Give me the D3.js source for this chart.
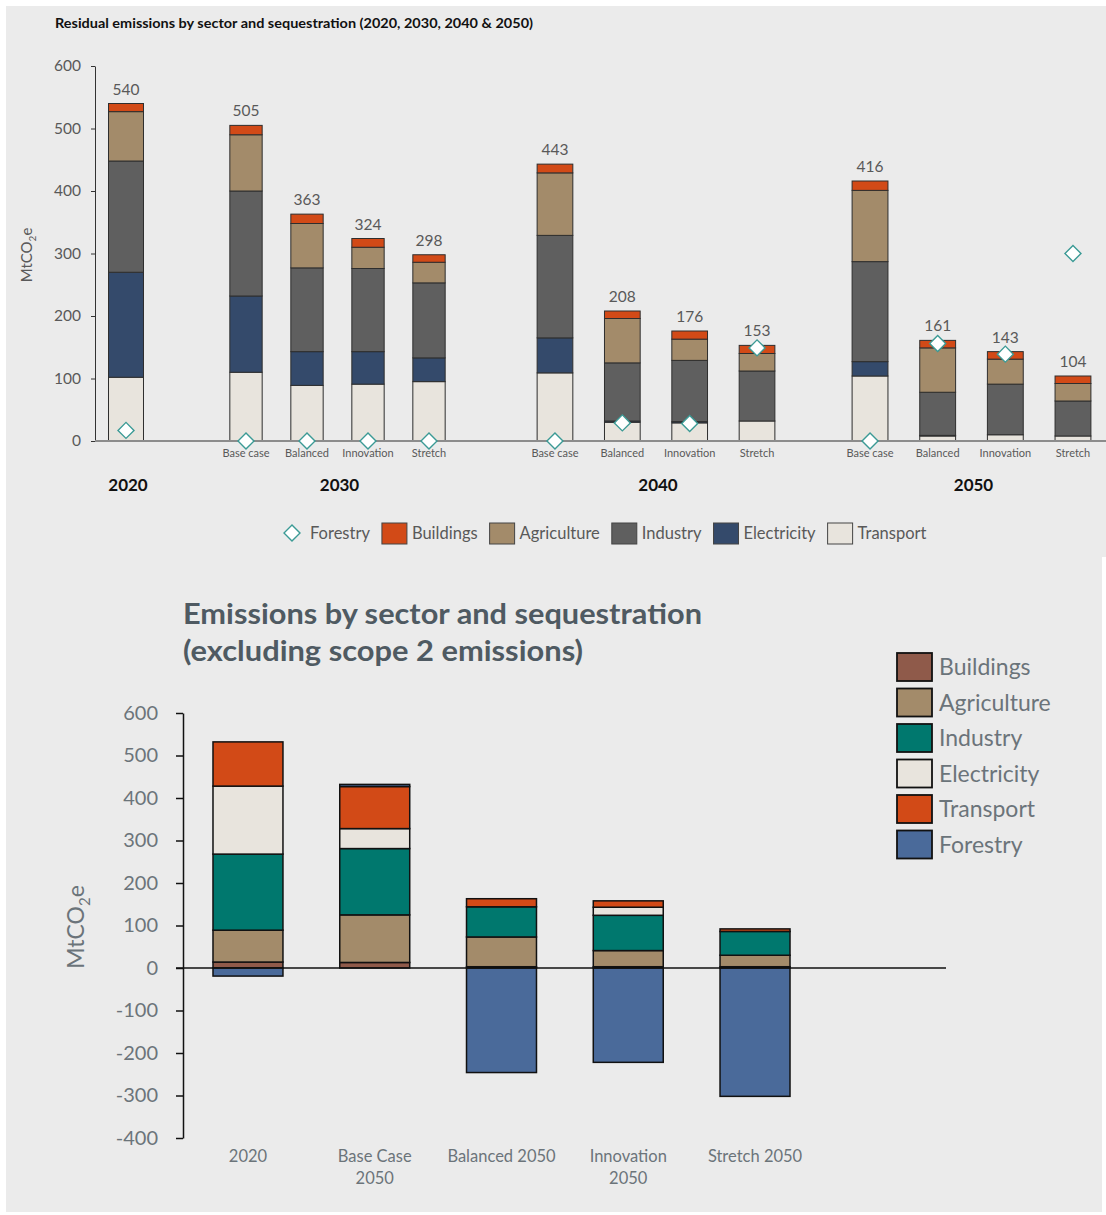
<!DOCTYPE html>
<html><head><meta charset="utf-8">
<script src="https://cdn.jsdelivr.net/npm/d3@7"></script>
<style>
body{margin:0;background:#fff;}
svg{display:block;font-family:Lato,"Open Sans",sans-serif;}
</style></head><body>
<svg id="c" width="1106" height="1215"></svg>
<script>
// ---------- TOP CHART DATA ----------
const topBarGroup    = ["2020","2030","2030","2030","2030","2040","2040","2040","2040","2050","2050","2050","2050"];
const topBarScenario = ["","Base case","Balanced","Innovation","Stretch","Base case","Balanced","Innovation","Stretch","Base case","Balanced","Innovation","Stretch"];
const topTransport   = [102,110, 89, 91, 95,109, 30, 29, 32,104,  8, 10,  8];
const topElectricity = [168,122, 54, 52, 38, 56,  2,  2,  0, 23,  1,  0,  0];
const topIndustry    = [178,168,134,133,120,164, 93, 98, 80,160, 69, 81, 56];
const topAgriculture = [ 79, 90, 71, 34, 33,100, 71, 34, 28,114, 71, 40, 28];
const topBuildings   = [ 13, 15, 15, 14, 12, 14, 12, 13, 13, 15, 12, 12, 12];
const topForestry    = [ 17,  0,  0,  0,  0,  0, 29, 28,149,  0,156,139,300];
const topTotals      = [540,505,363,324,298,443,208,176,153,416,161,143,104];
const topTicks       = [0,100,200,300,400,500,600];
const topLegend      = ["Forestry","Buildings","Agriculture","Industry","Electricity","Transport"];

// ---------- BOTTOM CHART DATA ----------
const botCategories  = ["2020","Base Case 2050","Balanced 2050","Innovation 2050","Stretch 2050"];
const botLabelLines  = [["2020"],["Base Case","2050"],["Balanced 2050"],["Innovation","2050"],["Stretch 2050"]];
const botBuildings   = [ 14, 13,   3,   3,   3];
const botAgriculture = [ 75,112,  70,  38,  27];
const botIndustry    = [179,156,  71,  83,  56];
const botElectricity = [160, 47,   0,  19,   0];
const botTransport   = [104, 99,  19,  15,   6];
const botForestry    = [-19,  5,-246,-222,-302];
const botTicks       = [-400,-300,-200,-100,0,100,200,300,400,500,600];
const botLegend      = ["Buildings","Agriculture","Industry","Electricity","Transport","Forestry"];

// ---------- STYLES / LAYOUT ----------
const topColors = {Transport:"#e8e4dd",Electricity:"#344a6b",Industry:"#5f5f5f",Agriculture:"#a38b6a",Buildings:"#d24a17"};
const botColors = {Buildings:"#8f5a4a",Agriculture:"#a38b6a",Industry:"#00786e",Electricity:"#e8e4dd",Transport:"#d24a17",Forestry:"#4a6a9a"};
const groupRange = {"2020":[93,159],"2030":[215.5,459.5],"2040":[521.3,790.7],"2050":[836.2,1106.8]};

const svg = d3.select("#c");
svg.append("rect").attr("x",6).attr("y",6).attr("width",1100).attr("height",551).attr("fill","#ebebeb");
svg.append("rect").attr("x",6).attr("y",557).attr("width",1096).attr("height",655).attr("fill","#ebebeb");

// ================= TOP CHART =================
const topKeys = ["Transport","Electricity","Industry","Agriculture","Buildings"];
const topRows = topBarGroup.map((g,i)=>({
  key: g+"|"+topBarScenario[i], group:g, scen:topBarScenario[i],
  Transport:topTransport[i], Electricity:topElectricity[i], Industry:topIndustry[i],
  Agriculture:topAgriculture[i], Buildings:topBuildings[i], forestry:topForestry[i], total:topTotals[i]
}));
const xGroup = {};
Array.from(new Set(topBarGroup)).forEach(g=>{
  xGroup[g] = d3.scaleBand().domain(topRows.filter(r=>r.group===g).map(r=>r.key))
    .range(groupRange[g]).paddingInner(0.47).paddingOuter(0.235);
});
const xL = d=>xGroup[d.group](d.key);
const xW = d=>xGroup[d.group].bandwidth();
const xC = d=>xL(d)+xW(d)/2;
const yTop = d3.scaleLinear().domain([0,600]).range([441,66]);

const gTop = svg.append("g");
gTop.append("text").attr("x",55).attr("y",28).attr("font-size",13).attr("font-weight","bold")
  .attr("fill","#111").attr("textLength",478).attr("lengthAdjust","spacingAndGlyphs")
  .text("Residual emissions by sector and sequestration (2020, 2030, 2040 & 2050)");

const yAxTop = gTop.append("g").attr("transform","translate(95,0)")
  .call(d3.axisLeft(yTop).tickValues(topTicks).tickSize(4).tickSizeOuter(0).tickPadding(10).tickFormat(d=>String(d)));
yAxTop.select(".domain").attr("stroke","#333");
yAxTop.selectAll(".tick line").attr("stroke","#333");
yAxTop.selectAll(".tick text").attr("fill","#595959").attr("font-size",15.5).attr("font-family","Lato,sans-serif");

const yt = gTop.append("text").attr("transform","translate(32,255) rotate(-90)").attr("text-anchor","middle")
  .attr("font-size",15).attr("fill","#595959");
yt.append("tspan").text("MtCO");
yt.append("tspan").attr("font-size",10).attr("dy",4).text("2");
yt.append("tspan").attr("dy",-4).text("e");

const topSeries = d3.stack().keys(topKeys)(topRows);
gTop.append("g").selectAll("g").data(topSeries).join("g").attr("fill",d=>topColors[d.key])
  .selectAll("rect").data(d=>d).join("rect")
  .attr("x",d=>xL(d.data)).attr("width",d=>xW(d.data))
  .attr("y",d=>yTop(d[1])).attr("height",d=>yTop(d[0])-yTop(d[1]))
  .attr("stroke","#2e2e2e").attr("stroke-width",1);

gTop.append("line").attr("x1",95).attr("x2",1106).attr("y1",yTop(0)).attr("y2",yTop(0))
  .attr("stroke","#8c8c8c").attr("stroke-width",2);

gTop.append("g").selectAll("text").data(topRows).join("text")
  .attr("x",xC).attr("y",d=>yTop(d.total)-9)
  .attr("text-anchor","middle").attr("font-size",15.5).attr("fill","#595959").text(d=>d.total);

const diamond = d3.symbol(d3.symbolSquare,128);
gTop.append("g").selectAll("path").data(topRows).join("path")
  .attr("d",diamond)
  .attr("transform",d=>`translate(${xC(d)},${yTop(d.forestry)}) rotate(45)`)
  .attr("fill","#fff").attr("stroke","#3b9a95").attr("stroke-width",1.4);

gTop.append("g").selectAll("text").data(topRows.filter(d=>d.scen)).join("text")
  .attr("x",xC).attr("y",457)
  .attr("text-anchor","middle").attr("font-size",11).attr("fill","#595959").text(d=>d.scen);

const groups = Array.from(d3.group(topRows,d=>d.group), ([g,rows])=>({g, cx:d3.mean(rows,xC)}));
gTop.append("g").selectAll("text").data(groups).join("text")
  .attr("x",d=>d.cx+2).attr("y",491).attr("text-anchor","middle")
  .attr("font-size",17).attr("font-weight","bold").attr("fill","#111").text(d=>d.g);

const lgTop = gTop.append("g");
let lx = 283;
topLegend.forEach(name=>{
  if(name==="Forestry"){
    lgTop.append("path").attr("d",diamond).attr("transform",`translate(${lx+9},533) rotate(45)`)
      .attr("fill","#fff").attr("stroke","#3b9a95").attr("stroke-width",1.4);
    lx += 27;
  } else {
    lgTop.append("rect").attr("x",lx).attr("y",523).attr("width",25).attr("height",21)
      .attr("fill",topColors[name]).attr("stroke","#444").attr("stroke-width",1);
    lx += 30;
  }
  const t = lgTop.append("text").attr("x",lx).attr("y",539).attr("font-size",16.5).attr("fill","#595959").text(name);
  lx += t.node().getComputedTextLength() + 12;
});

// ================= BOTTOM CHART =================
const botKeys = ["Buildings","Agriculture","Industry","Electricity","Transport","Forestry"];
const botRows = botCategories.map((c,i)=>({
  key:c, Buildings:botBuildings[i], Agriculture:botAgriculture[i], Industry:botIndustry[i],
  Electricity:botElectricity[i], Transport:botTransport[i], Forestry:botForestry[i]
}));
const xBot = d3.scaleBand().domain(botCategories).range([184.6,818.4]).paddingInner(0.448).paddingOuter(0.224);
const yBot = d3.scaleLinear().domain([-400,600]).range([1138,713]);
const gBot = svg.append("g");

gBot.append("text").attr("x",183).attr("y",624).attr("font-size",28).attr("font-weight","bold")
  .attr("fill","#4f5a62").attr("textLength",519).attr("lengthAdjust","spacingAndGlyphs")
  .text("Emissions by sector and sequestration");
gBot.append("text").attr("x",183).attr("y",661).attr("font-size",28).attr("font-weight","bold")
  .attr("fill","#4f5a62").attr("textLength",400).attr("lengthAdjust","spacingAndGlyphs")
  .text("(excluding scope 2 emissions)");

const yAxBot = gBot.append("g").attr("transform","translate(183,0)")
  .call(d3.axisLeft(yBot).tickValues(botTicks).tickSize(7).tickSizeOuter(0).tickPadding(18).tickFormat(d=>String(d)));
yAxBot.select(".domain").attr("stroke","#111").attr("stroke-width",1.5);
yAxBot.selectAll(".tick line").attr("stroke","#111").attr("stroke-width",1.5);
yAxBot.selectAll(".tick text").attr("fill","#6b747a").attr("font-size",20).attr("font-family","Lato,sans-serif");

const yb = gBot.append("text").attr("transform","translate(84,927) rotate(-90)").attr("text-anchor","middle")
  .attr("font-size",23).attr("fill","#6b747a");
yb.append("tspan").text("MtCO");
yb.append("tspan").attr("font-size",15).attr("dy",6).text("2");
yb.append("tspan").attr("dy",-6).text("e");

const botSeries = d3.stack().keys(botKeys).offset(d3.stackOffsetDiverging)(botRows);
gBot.append("g").selectAll("g").data(botSeries).join("g").attr("fill",d=>botColors[d.key])
  .selectAll("rect").data(d=>d).join("rect")
  .attr("x",d=>xBot(d.data.key)).attr("width",xBot.bandwidth())
  .attr("y",d=>yBot(Math.max(d[0],d[1]))).attr("height",d=>Math.abs(yBot(d[0])-yBot(d[1])))
  .attr("stroke","#111").attr("stroke-width",1.5);

gBot.append("line").attr("x1",176).attr("x2",946).attr("y1",yBot(0)).attr("y2",yBot(0))
  .attr("stroke","#111").attr("stroke-width",1.5);

const cl = gBot.append("g").selectAll("text").data(botCategories).join("text")
  .attr("x",d=>xBot(d)+xBot.bandwidth()/2).attr("y",1162).attr("text-anchor","middle")
  .attr("font-size",16.5).attr("fill","#6b747a");
cl.each(function(d,i){
  const sel = d3.select(this);
  botLabelLines[i].forEach((ln,j)=>{
    sel.append("tspan").attr("x",xBot(d)+xBot.bandwidth()/2).attr("dy",j===0?0:22).text(ln);
  });
});

const lgBot = gBot.append("g");
botLegend.forEach((name,i)=>{
  const y0 = 653 + i*35.5;
  lgBot.append("rect").attr("x",897).attr("y",y0).attr("width",35).attr("height",28)
    .attr("fill",botColors[name]).attr("stroke","#111").attr("stroke-width",1.8);
  lgBot.append("text").attr("x",939).attr("y",y0+22).attr("font-size",23).attr("fill","#6b747a").text(name);
});
</script>
</body></html>
